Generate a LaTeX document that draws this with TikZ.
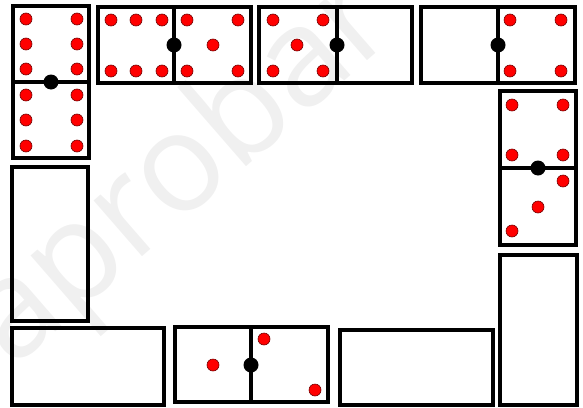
\documentclass[tikz,border=0pt]{standalone}
\usepackage{fontspec}
\newfontfamily\wmfont{Open Sans}
\begin{document}
\begin{tikzpicture}[x=1pt,y=-1pt,
  dom/.style={draw=black,line width=3.5pt},
  divl/.style={draw=black,line width=3.2pt},
  pip/.style={fill=red,draw=black!55!red,line width=0.6pt},
  hub/.style={fill=black}]
\useasboundingbox (0,0) rectangle (583,407);
% watermark
\begin{scope}
\clip (0,0) rectangle (583,407);
\node[rotate=41,text=black!6,font=\wmfont\fontsize{138}{138}\selectfont,anchor=base west,inner sep=0pt] (wm) at (12,370) {aprobar};
\end{scope}
% 1: vertical 6|6
\draw[dom] (13,6) rectangle (89,158);
\draw[divl] (13,82) -- (89,82);
\foreach \x in {26,77} \foreach \y in {19,44,69,95,120,146}
  \filldraw[pip] (\x,\y) circle (6pt);
\fill[hub] (51,82) circle (7.5pt);
% 2: horizontal 6|5
\draw[dom] (98,7) rectangle (251,83);
\draw[divl] (174,7) -- (174,83);
\foreach \x in {111,136,162} \foreach \y in {20,71}
  \filldraw[pip] (\x,\y) circle (6pt);
\foreach \p in {(187,20),(238,20),(213,45),(187,71),(238,71)}
  \filldraw[pip] \p circle (6pt);
\fill[hub] (174,45) circle (7.5pt);
% 3: horizontal 5|0
\draw[dom] (259,7) rectangle (412,83);
\draw[divl] (337,7) -- (337,83);
\foreach \p in {(273,20),(323,20),(297,45),(273,71),(323,71)}
  \filldraw[pip] \p circle (6pt);
\fill[hub] (337,45) circle (7.5pt);
% 4: horizontal 0|4
\draw[dom] (421,7) rectangle (575,83);
\draw[divl] (498,7) -- (498,83);
\foreach \p in {(510,20),(561,20),(510,71),(561,71)}
  \filldraw[pip] \p circle (6pt);
\fill[hub] (498,45) circle (7.5pt);
% 5: vertical 4|3
\draw[dom] (500,91) rectangle (576,245);
\draw[divl] (500,168) -- (576,168);
\foreach \p in {(512,105),(563,105),(512,155),(563,155),(563,181),(538,207),(512,231)}
  \filldraw[pip] \p circle (6pt);
\fill[hub] (538,168) circle (7.5pt);
% 6: vertical blank
\draw[dom] (500,255) rectangle (577,405);
% 7: horizontal blank
\draw[dom] (340,330) rectangle (493,405);
% 8: horizontal 1|2
\draw[dom] (175,327) rectangle (328,402);
\draw[divl] (251,327) -- (251,402);
\foreach \p in {(213,365),(264,339),(315,390)}
  \filldraw[pip] \p circle (6pt);
\fill[hub] (251,365) circle (7.5pt);
% 9: horizontal blank
\draw[dom] (12,328) rectangle (164,405);
% 10: vertical blank
\draw[dom] (12,167) rectangle (88,321);
\end{tikzpicture}
\end{document}
